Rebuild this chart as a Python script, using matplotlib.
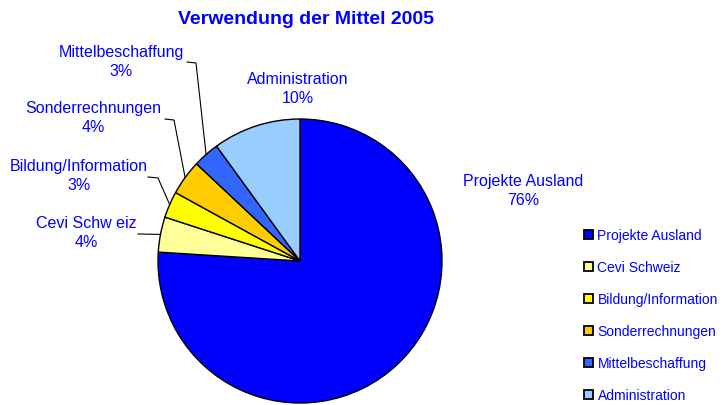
import numpy as np
import matplotlib
matplotlib.use("Agg")
import matplotlib.pyplot as plt

# data
labels = ["Projekte Ausland", "Cevi Schweiz", "Bildung/Information",
          "Sonderrechnungen", "Mittelbeschaffung", "Administration"]
values = [76, 4, 3, 4, 3, 10]
farben = ["#0000FF", "#FFFF99", "#FFFF00", "#FFCC00", "#3366FF", "#99CCFF"]

# label positions (pixel coords, y from top) and leader elbows
txt_pos = [(523, 191), (86, 233), (79, 176), (93, 118), (121, 62), (298, 89)]
elbows = [None, [(138, 235)], [(148, 178), (158, 179)], [(165, 120), (174, 121)],
          [(187, 63), (196, 64)], None]

W, H = 724, 406
cx, cy, R = 300, H - 262, 142
blau = "#0000FF"

plt.rcParams['font.family'] = ['Liberation Sans', 'DejaVu Sans']

fig = plt.figure(figsize=(7.24, 4.06), dpi=100)
fig.patch.set_facecolor('white')
ax = fig.add_axes([0, 0, 1, 1])

wedges, _ = ax.pie(values, colors=farben, startangle=90, counterclock=False,
                   center=(cx, cy), radius=R, frame=True,
                   wedgeprops=dict(edgecolor='black', linewidth=1.0))
ax.set_xlim(0, W)
ax.set_ylim(0, H)
ax.set_aspect('equal')
ax.axis('off')

total = float(sum(values))
cum = 0.0
for i, (lab, v) in enumerate(zip(labels, values)):
    mid = 90 - 360 * (cum + v / 2) / total
    cum += v
    px, py = txt_pos[i]
    ax.text(px, H - py, "%s\n%d%%" % (lab.replace("Schweiz", "Schw eiz"), v),
            ha='center', va='center', color=blau, fontsize=11.5, linespacing=1.3)
    if elbows[i] is not None:
        ex = cx + R * np.cos(np.radians(mid))
        ey = cy + R * np.sin(np.radians(mid))
        xs = [p[0] for p in elbows[i]] + [ex]
        ys = [H - p[1] for p in elbows[i]] + [ey]
        ax.plot(xs, ys, color='black', linewidth=0.8)

ax.text(306, H - 20, "Verwendung der Mittel 2005", ha='center', va='center',
        color=blau, fontsize=14, fontweight='bold')

leg = ax.legend(wedges, labels, loc='upper left', bbox_to_anchor=(584, H - 229),
                bbox_transform=ax.transData, frameon=False, fontsize=10,
                handlelength=0.62, handleheight=0.62, handletextpad=0.35,
                labelspacing=1.3, borderaxespad=0, borderpad=0)
for t in leg.get_texts():
    t.set_color(blau)
for h in leg.legend_handles:
    h.set_linewidth(1.3)

fig.savefig("out.png", dpi=100)
